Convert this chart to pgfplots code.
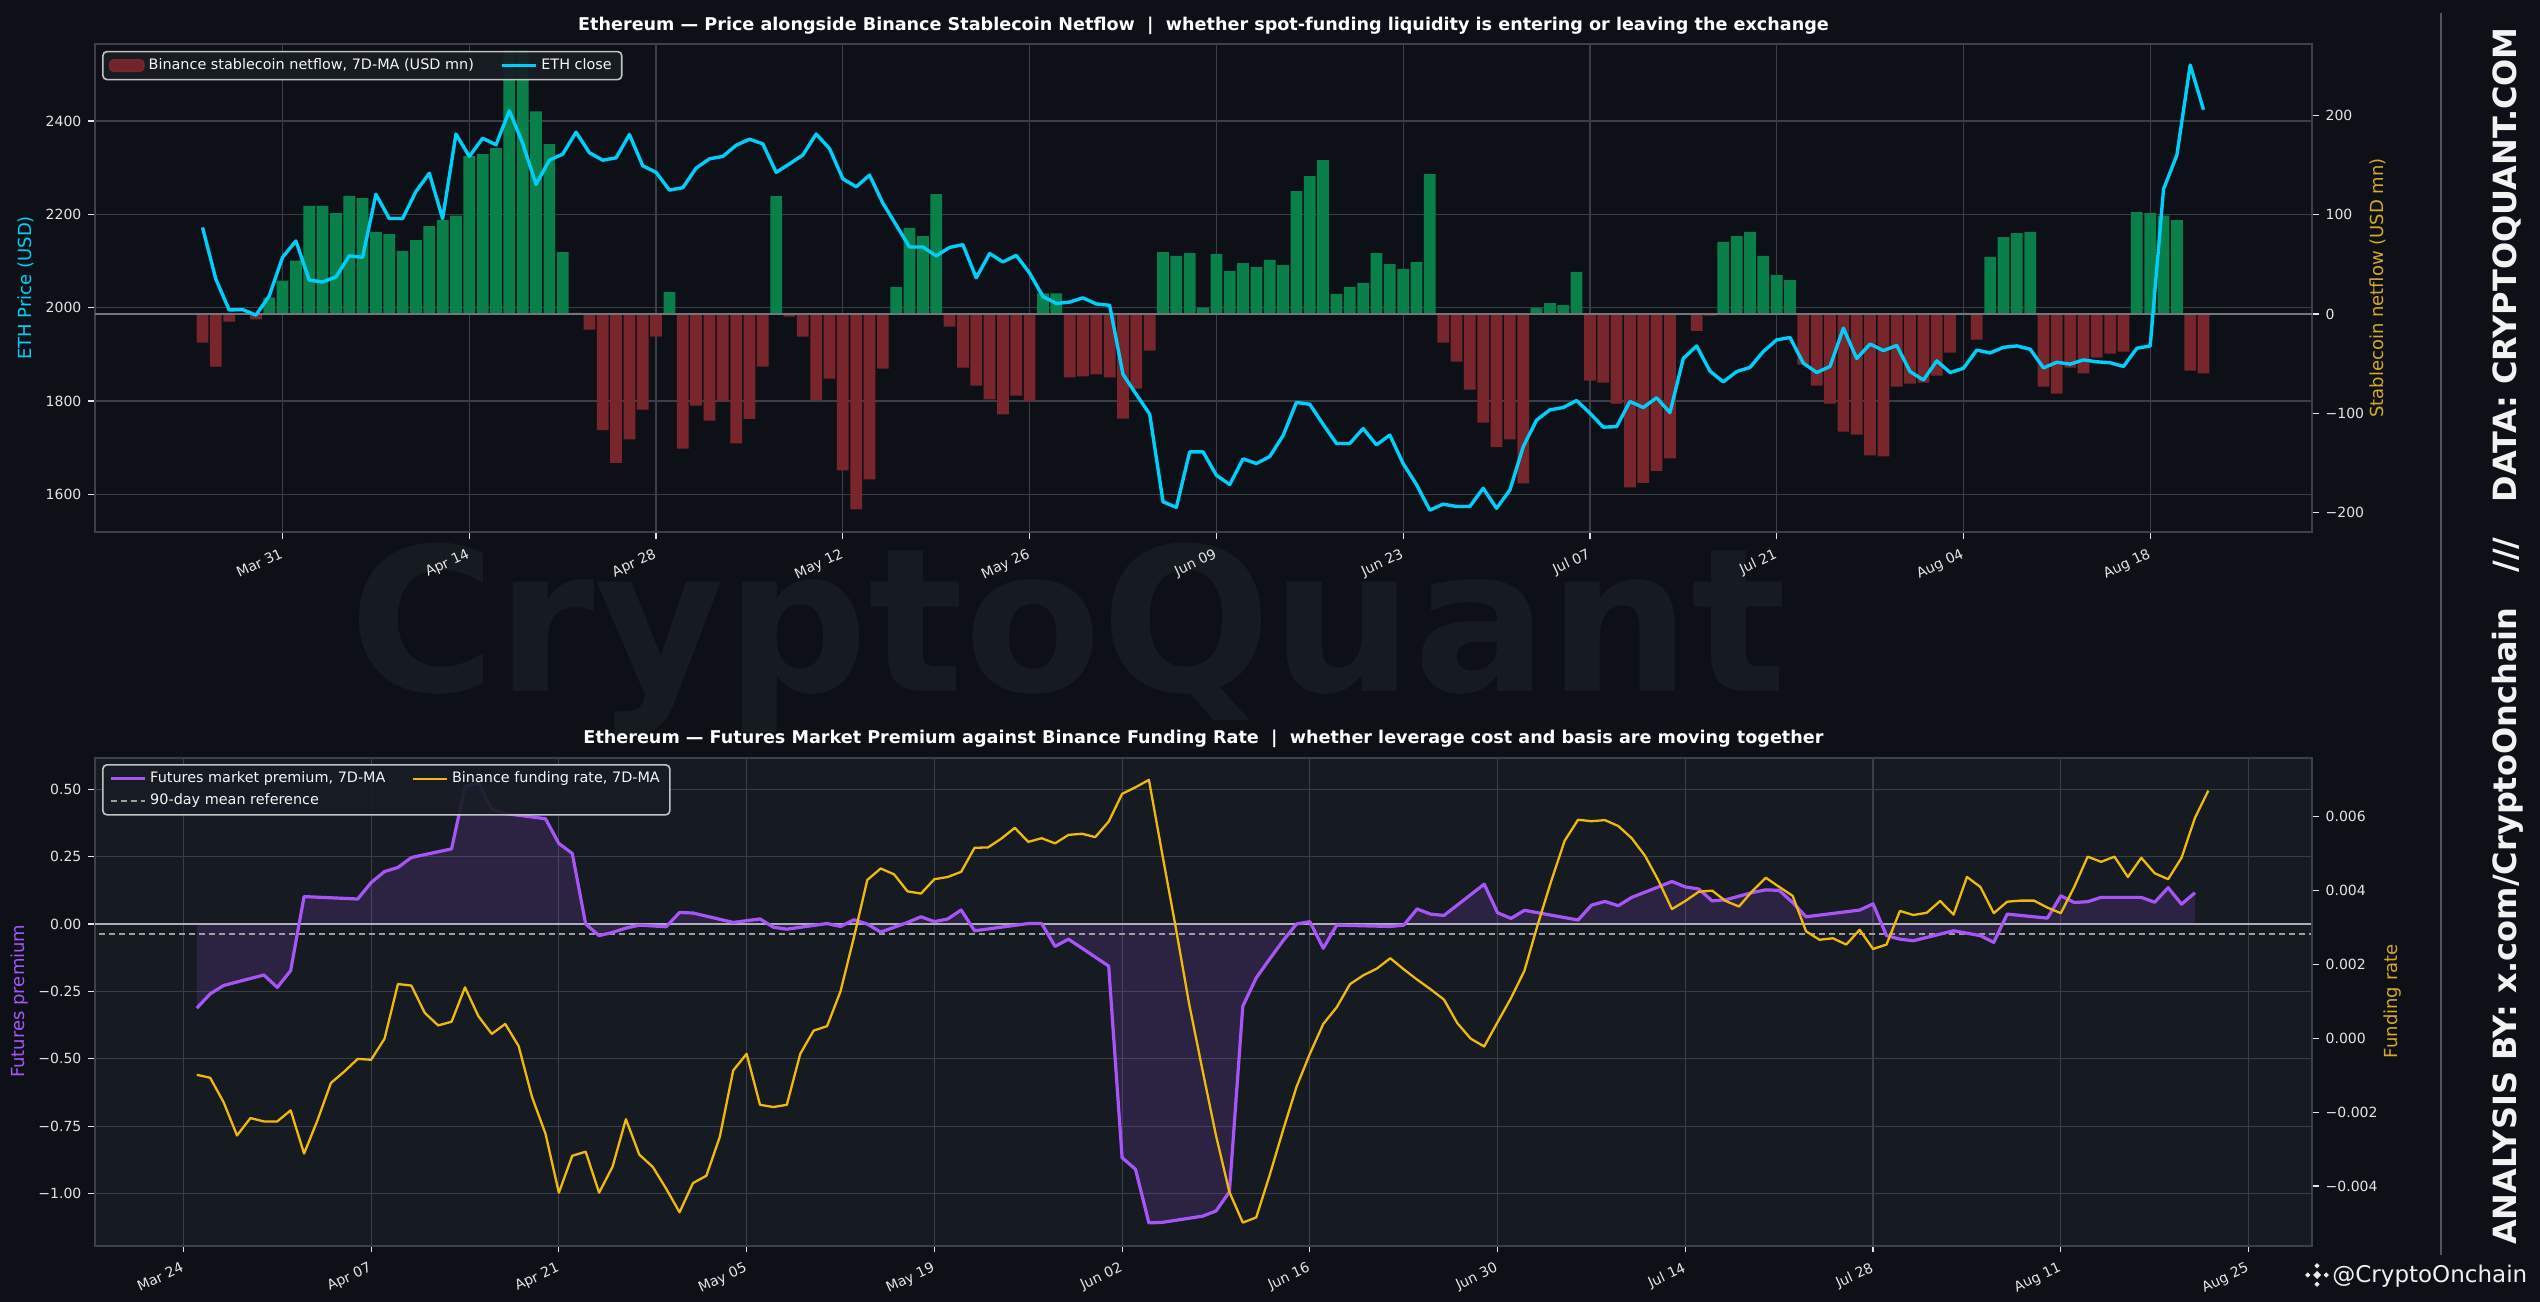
\documentclass[border=0pt]{standalone}
\usepackage{pgfplots}
\pgfplotsset{compat=1.18}
\usepackage{fontspec}
\setmainfont{DejaVu Sans}
\definecolor{figbg}{RGB}{13,17,23}
\definecolor{ax2bg}{RGB}{22,27,34}
\definecolor{gridc}{RGB}{58,62,70}
\definecolor{spinec}{RGB}{60,65,73}
\definecolor{tickc}{RGB}{228,228,228}
\definecolor{barg}{RGB}{9,127,74}
\definecolor{barr}{RGB}{120,38,44}
\definecolor{ethc}{RGB}{0,207,250}
\definecolor{purp}{RGB}{168,85,247}
\definecolor{yel}{RGB}{240,185,11}
\definecolor{goldlab}{RGB}{214,168,40}
\definecolor{wm}{RGB}{22,26,33}
\definecolor{legbg}{RGB}{24,29,37}
\definecolor{legdraw}{RGB}{195,195,195}
\definecolor{zline}{RGB}{115,118,125}
\definecolor{zline2}{RGB}{172,172,186}
\definecolor{sepc}{RGB}{80,85,95}

\pgfplotsset{
  base/.style={
    scale only axis, width=1108.5pt, height=244pt,
    axis line style={spinec, line width=0.8pt},
    tick style={tickc, line width=0.6pt},
    tick align=outside, major tick length=3.3pt,
    ticklabel style={font=\fontsize{7}{8}\selectfont, text=tickc},
    /pgf/number format/assume math mode=true,
    grid style={gridc, line width=0.6pt},
  },
  leg/.style={
    legend style={at={(rel axis cs:0.0032,0.986)}, anchor=north west,
      fill=legbg, fill opacity=0.92, draw opacity=1, text opacity=1,
      draw=legdraw, line width=0.8pt, rounded corners=2pt,
      font=\fontsize{7.2}{8.8}\selectfont, text=white!92!gray,
      legend columns=2, legend cell align=left,
      /tikz/every even column/.append style={column sep=11pt},
      inner xsep=3pt, inner ysep=1.5pt},
  },
}

\begin{document}
\begin{tikzpicture}
\path[use as bounding box] (0,0) rectangle (1270pt,651pt);
\fill[figbg] (0,0) rectangle (1270pt,651pt);
% watermark
\node[anchor=base west, inner sep=0pt, font=\fontsize{100}{102}\selectfont\bfseries, text=wm] at (174.5pt,305pt) {CryptoQuant};

% ================= TOP CHART =================
\begin{axis}[base, at={(47.5pt,385pt)}, anchor=south west,
  xmin=-14.06, xmax=152.13, ymin=1519.3, ymax=2565,
  tick pos=left, xmajorgrids, ymajorgrids,
  xtick={0,14,...,140},
  xticklabels={Mar 31,Apr 14,Apr 28,May 12,May 26,Jun 09,Jun 23,Jul 07,Jul 21,Aug 04,Aug 18},
  xticklabel style={rotate=25, anchor=north east},
  ytick={1600,1800,2000,2200,2400},
  yticklabels={1600,1800,2000,2200,2400},
]
\addplot[draw=none, forget plot] coordinates {(0,2000)};
\end{axis}

\begin{axis}[base, at={(47.5pt,385pt)}, anchor=south west,
  xmin=-14.06, xmax=152.13, ymin=-219.7, ymax=272,
  axis x line=none, axis y line*=right,
  ytick={-200,-100,0,100,200},
  yticklabels={−200,−100,0,100,200},
]
\addplot[ybar, bar shift=0pt, bar width=0.88, fill=barg, draw=none, forget plot] coordinates {
(-1,16.4)(0,33.6)(1,53.7)(2,109)(3,109)(4,101.7)(5,119)(6,116.8)(7,82.6)(8,80.5)(9,63.4)(10,74.5)(11,88.6)(12,94.6)(13,99)(14,159)(15,161)(16,167)(17,265)(18,265)(19,204)(20,171)(21,62.4)(22,1.2)(29,22)(37,118.8)(46,27.2)(47,86.6)(48,78.5)(49,120.8)(57,20.8)(58,20.8)(66,62.4)(67,58.4)(68,61.4)(69,6.4)(70,60.4)(71,43.3)(72,51.3)(73,47.3)(74,54.4)(75,49.3)(76,123.8)(77,138.9)(78,155)(79,20.1)(80,27.2)(81,31.2)(82,61.4)(83,50.3)(84,45.3)(85,52.3)(86,141)(94,6)(95,11)(96,9)(97,42.3)(108,72.5)(109,78.5)(110,82.6)(111,58.4)(112,39.3)(113,34.2)(126,1)(128,57.4)(129,77.5)(130,81.5)(131,82.6)(139,102.7)(140,101.7)(141,99)(142,94.6)
};
\addplot[ybar, bar shift=0pt, bar width=0.88, fill=barr, draw=none, forget plot] coordinates {
(-6,-28.9)(-5,-53)(-4,-7.7)(-2,-5.4)(23,-15.8)(24,-117)(25,-150)(26,-126.5)(27,-96.3)(28,-22.8)(30,-135.6)(31,-92.3)(32,-107.4)(33,-88)(34,-130.5)(35,-105.7)(36,-53)(38,-2.7)(39,-22.8)(40,-87.2)(41,-65.1)(42,-157.7)(43,-197)(44,-166.8)(45,-55)(50,-12.8)(51,-54)(52,-72.1)(53,-86.2)(54,-101.3)(55,-82.2)(56,-87.6)(59,-64)(60,-63)(61,-61)(62,-64)(63,-105.4)(64,-75.2)(65,-36.9)(87,-28.9)(88,-48)(89,-76.2)(90,-109.4)(91,-134.2)(92,-126.5)(93,-170.8)(98,-67.1)(99,-69.1)(100,-90.3)(101,-174.8)(102,-170.1)(103,-158)(104,-145.6)(106,-17.1)(107,-1.7)(114,-51)(115,-72.1)(116,-90.3)(117,-118.5)(118,-121.5)(119,-142.6)(120,-143.6)(121,-73.2)(122,-70.1)(123,-69.1)(124,-62.1)(125,-38.9)(127,-25.8)(132,-73.2)(133,-80.2)(134,-54)(135,-60)(136,-44)(137,-40)(138,-37.9)(143,-57)(144,-60)
};
\addplot[zline, line width=0.7pt, forget plot] coordinates {(-20,0) (160,0)};
\end{axis}

\begin{axis}[base, leg, at={(47.5pt,385pt)}, anchor=south west,
  xmin=-14.06, xmax=152.13, ymin=1519.3, ymax=2565,
  hide axis,
]
\addlegendimage{area legend, fill=barr, draw=barr}
\addlegendentry{Binance stablecoin netflow, 7D-MA (USD mn)}
\addplot[ethc, line width=1.7pt, line join=round] coordinates {
(-6,2172)(-5,2061)(-4,1995)(-3,1996)(-2,1984)(-1,2025)(0,2108)(1,2143)(2,2059)(3,2055)(4,2066)(5,2111)(6,2108)(7,2243)(8,2191)(9,2191)(10,2249)(11,2288)(12,2191)(13,2372)(14,2324)(15,2363)(16,2349)(17,2422)(18,2352)(19,2264)(20,2316)(21,2329)(22,2376)(23,2332)(24,2316)(25,2321)(26,2371)(27,2304)(28,2290)(29,2252)(30,2257)(31,2299)(32,2319)(33,2324)(34,2348)(35,2361)(36,2351)(37,2290)(38,2308)(39,2327)(40,2372)(41,2341)(42,2276)(43,2259)(44,2284)(45,2224)(46,2177)(47,2130)(48,2130)(49,2111)(50,2129)(51,2135)(52,2064)(53,2116)(54,2098)(55,2112)(56,2074)(57,2024)(58,2009)(59,2012)(60,2021)(61,2008)(62,2005)(63,1857)(64,1814)(65,1772)(66,1584)(67,1572)(68,1691)(69,1691)(70,1641)(71,1621)(72,1676)(73,1666)(74,1681)(75,1726)(76,1797)(77,1793)(78,1750)(79,1709)(80,1709)(81,1741)(82,1706)(83,1727)(84,1666)(85,1621)(86,1566)(87,1579)(88,1574)(89,1574)(90,1613)(91,1570)(92,1609)(93,1702)(94,1759)(95,1781)(96,1786)(97,1801)(98,1774)(99,1744)(100,1745)(101,1799)(102,1786)(103,1807)(104,1775)(105,1891)(106,1918)(107,1864)(108,1841)(109,1863)(110,1872)(111,1906)(112,1931)(113,1936)(114,1881)(115,1861)(116,1874)(117,1956)(118,1891)(119,1922)(120,1908)(121,1919)(122,1863)(123,1845)(124,1886)(125,1861)(126,1870)(127,1909)(128,1903)(129,1915)(130,1918)(131,1911)(132,1871)(133,1883)(134,1879)(135,1888)(136,1884)(137,1882)(138,1874)(139,1913)(140,1918)(141,2254)(142,2327)(143,2520)(144,2424)
};
\addlegendentry{ETH close}
\end{axis}

% ================= BOTTOM CHART =================
\begin{axis}[base, at={(47.5pt,28.1pt)}, anchor=south west,
  axis background/.style={fill=ax2bg},
  xmin=-13.59, xmax=151.73, ymin=-1.194, ymax=0.617,
  tick pos=left, xmajorgrids, ymajorgrids,
  xtick={-7,7,...,147},
  xticklabels={Mar 24,Apr 07,Apr 21,May 05,May 19,Jun 02,Jun 16,Jun 30,Jul 14,Jul 28,Aug 11,Aug 25},
  xticklabel style={rotate=25, anchor=north east},
  ytick={-1,-0.75,-0.5,-0.25,0,0.25,0.5},
  yticklabels={−1.00,−0.75,−0.50,−0.25,0.00,0.25,0.50},
]
\addplot[draw=none, fill=purp, fill opacity=0.15, forget plot] coordinates {
(-6,-0.312)(-5,-0.259)(-4,-0.228)(-1,-0.189)(0,-0.235)(1,-0.173)(2,0.102)(6,0.093)(7,0.154)(8,0.195)(9,0.21)(10,0.247)(13,0.279)(14,0.509)(15,0.525)(16,0.426)(17,0.41)(20,0.391)(21,0.299)(22,0.262)(23,0.0)(24,-0.043)(25,-0.031)(26,-0.015)(27,-0.004)(29,-0.01)(30,0.043)(31,0.041)(34,0.006)(36,0.019)(37,-0.012)(38,-0.019)(41,0.002)(42,-0.009)(43,0.016)(44,0.0)(45,-0.030)(46,-0.012)(47,0.006)(48,0.027)(49,0.009)(50,0.019)(51,0.052)(52,-0.025)(56,0.002)(57,0.002)(58,-0.083)(59,-0.056)(62,-0.156)(63,-0.867)(64,-0.910)(65,-1.109)(66,-1.107)(69,-1.084)(70,-1.065)(71,-0.994)(72,-0.305)(73,-0.2)(74,-0.13)(75,-0.062)(76,0.0)(77,0.009)(78,-0.09)(79,-0.004)(83,-0.009)(84,-0.004)(85,0.056)(86,0.037)(87,0.032)(90,0.148)(91,0.042)(92,0.021)(93,0.051)(97,0.015)(98,0.070)(99,0.084)(100,0.068)(101,0.099)(103,0.138)(104,0.158)(105,0.138)(106,0.130)(107,0.086)(108,0.090)(110,0.117)(111,0.127)(112,0.125)(113,0.08)(114,0.027)(118,0.052)(119,0.075)(120,-0.043)(121,-0.056)(122,-0.062)(125,-0.025)(127,-0.043)(128,-0.068)(129,0.037)(132,0.022)(133,0.105)(134,0.08)(135,0.083)(136,0.099)(139,0.099)(140,0.081)(141,0.135)(142,0.074)(143,0.116)
} \closedcycle;
\addplot[zline2, line width=0.7pt, forget plot] coordinates {(-20,0) (160,0)};
\addplot[gray!75, line width=0.7pt, dash pattern=on 3pt off 2pt, forget plot] coordinates {(-20,-0.037) (160,-0.037)};
\addplot[purp, line width=1.6pt, line join=round, forget plot] coordinates {
(-6,-0.312)(-5,-0.259)(-4,-0.228)(-1,-0.189)(0,-0.235)(1,-0.173)(2,0.102)(6,0.093)(7,0.154)(8,0.195)(9,0.21)(10,0.247)(13,0.279)(14,0.509)(15,0.525)(16,0.426)(17,0.41)(20,0.391)(21,0.299)(22,0.262)(23,0.0)(24,-0.043)(25,-0.031)(26,-0.015)(27,-0.004)(29,-0.01)(30,0.043)(31,0.041)(34,0.006)(36,0.019)(37,-0.012)(38,-0.019)(41,0.002)(42,-0.009)(43,0.016)(44,0.0)(45,-0.030)(46,-0.012)(47,0.006)(48,0.027)(49,0.009)(50,0.019)(51,0.052)(52,-0.025)(56,0.002)(57,0.002)(58,-0.083)(59,-0.056)(62,-0.156)(63,-0.867)(64,-0.910)(65,-1.109)(66,-1.107)(69,-1.084)(70,-1.065)(71,-0.994)(72,-0.305)(73,-0.2)(74,-0.13)(75,-0.062)(76,0.0)(77,0.009)(78,-0.09)(79,-0.004)(83,-0.009)(84,-0.004)(85,0.056)(86,0.037)(87,0.032)(90,0.148)(91,0.042)(92,0.021)(93,0.051)(97,0.015)(98,0.070)(99,0.084)(100,0.068)(101,0.099)(103,0.138)(104,0.158)(105,0.138)(106,0.130)(107,0.086)(108,0.090)(110,0.117)(111,0.127)(112,0.125)(113,0.08)(114,0.027)(118,0.052)(119,0.075)(120,-0.043)(121,-0.056)(122,-0.062)(125,-0.025)(127,-0.043)(128,-0.068)(129,0.037)(132,0.022)(133,0.105)(134,0.08)(135,0.083)(136,0.099)(139,0.099)(140,0.081)(141,0.135)(142,0.074)(143,0.116)
};
\end{axis}

\begin{axis}[base, leg, at={(47.5pt,28.1pt)}, anchor=south west,
  xmin=-13.59, xmax=151.73, ymin=-5.618, ymax=7.598,
  axis x line=none, axis y line*=right,
  ytick={-4,-2,0,2,4,6},
  yticklabels={−0.004,−0.002,0.000,0.002,0.004,0.006},
  legend style={at={(rel axis cs:0.0032,0.987)}},
]
\addlegendimage{purp, line width=1.6pt}
\addlegendentry{Futures market premium, 7D-MA}
\addlegendimage{yel, line width=1.2pt}
\addlegendentry{Binance funding rate, 7D-MA}
\addlegendimage{gray!75, line width=0.7pt, dash pattern=on 3pt off 2pt}
\addlegendentry{90-day mean reference}
\addplot[yel, line width=1.15pt, line join=round, forget plot] coordinates {
(-6,-0.987)(-5,-1.068)(-4,-1.73)(-3,-2.63)(-2,-2.16)(-1,-2.25)(0,-2.25)(1,-1.95)(2,-3.12)(3,-2.22)(4,-1.21)(5,-0.90)(6,-0.556)(7,-0.58)(8,-0.01)(9,1.47)(10,1.43)(11,0.69)(12,0.35)(13,0.45)(14,1.38)(15,0.60)(16,0.12)(17,0.39)(18,-0.21)(19,-1.59)(20,-2.58)(21,-4.18)(22,-3.18)(23,-3.07)(24,-4.18)(25,-3.48)(26,-2.19)(27,-3.15)(28,-3.48)(29,-4.07)(30,-4.71)(31,-3.92)(32,-3.72)(33,-2.67)(34,-0.87)(35,-0.42)(36,-1.80)(37,-1.86)(38,-1.80)(39,-0.42)(40,0.21)(41,0.33)(42,1.27)(43,2.73)(44,4.29)(45,4.60)(46,4.44)(47,3.98)(48,3.92)(49,4.31)(50,4.37)(51,4.51)(52,5.16)(53,5.17)(54,5.41)(55,5.70)(56,5.32)(57,5.42)(58,5.28)(59,5.51)(60,5.54)(61,5.45)(62,5.87)(63,6.62)(64,6.80)(65,7.00)(66,4.98)(67,3.0)(68,0.93)(69,-0.87)(70,-2.63)(71,-4.16)(72,-4.99)(73,-4.85)(74,-3.71)(75,-2.49)(76,-1.32)(77,-0.42)(78,0.39)(79,0.84)(80,1.47)(81,1.71)(82,1.89)(83,2.17)(84,1.87)(85,1.59)(86,1.33)(87,1.05)(88,0.41)(89,-0.01)(90,-0.22)(91,0.44)(92,1.09)(93,1.83)(94,3.09)(95,4.26)(96,5.35)(97,5.92)(98,5.88)(99,5.91)(100,5.75)(101,5.42)(102,4.94)(103,4.27)(104,3.50)(105,3.72)(106,3.97)(107,4.00)(108,3.72)(109,3.57)(110,3.99)(111,4.35)(112,4.10)(113,3.86)(114,2.90)(115,2.67)(116,2.71)(117,2.54)(118,2.94)(119,2.42)(120,2.54)(121,3.45)(122,3.34)(123,3.40)(124,3.72)(125,3.35)(126,4.37)(127,4.10)(128,3.39)(129,3.70)(130,3.73)(131,3.73)(132,3.54)(133,3.39)(134,4.10)(135,4.92)(136,4.78)(137,4.92)(138,4.37)(139,4.89)(140,4.47)(141,4.31)(142,4.89)(143,5.97)(144,6.71)
};
\end{axis}

% ================= TITLES AND LABELS =================
\node[font=\fontsize{8.8}{10}\selectfont\bfseries, text=white] at (601.75pt,638pt)
  {Ethereum — Price alongside Binance Stablecoin Netflow \ | \ whether spot-funding liquidity is entering or leaving the exchange};
\node[font=\fontsize{8.8}{10}\selectfont\bfseries, text=white] at (601.75pt,281.5pt)
  {Ethereum — Futures Market Premium against Binance Funding Rate \ | \ whether leverage cost and basis are moving together};

\node[rotate=90, font=\fontsize{9}{10}\selectfont, text=ethc] at (13pt,507pt) {ETH Price (USD)};
\node[rotate=90, font=\fontsize{9}{10}\selectfont, text=goldlab] at (1189pt,507pt) {Stablecoin netflow (USD mn)};
\node[rotate=90, font=\fontsize{9}{10}\selectfont, text=purp] at (10pt,150.4pt) {Futures premium};
\node[rotate=90, font=\fontsize{9}{10}\selectfont, text=goldlab] at (1196.5pt,150.4pt) {Funding rate};

% right-side banner
\draw[sepc, line width=0.8pt] (1220.5pt,23.5pt) -- (1220.5pt,644.5pt);
\node[rotate=90, font=\fontsize{16}{19}\selectfont\bfseries, text=white!90!gray] at (1254pt,333pt)
  {ANALYSIS BY: x.com/CryptoOnchain\hspace{1.1em}///\hspace{1.1em}DATA: CRYPTOQUANT.COM};

% footer handle with logo
\begin{scope}[shift={(1158.5pt,13.5pt)}]
  \fill[white!85!gray] (0,-2pt) -- (2pt,0) -- (0,2pt) -- (-2pt,0) -- cycle;
  \fill[white!85!gray, shift={(0,4.6pt)}] (0,-1.3pt) -- (1.3pt,0) -- (0,1.3pt) -- (-1.3pt,0) -- cycle;
  \fill[white!85!gray, shift={(0,-4.6pt)}] (0,-1.3pt) -- (1.3pt,0) -- (0,1.3pt) -- (-1.3pt,0) -- cycle;
  \fill[white!85!gray, shift={(4.6pt,0)}] (0,-1.3pt) -- (1.3pt,0) -- (0,1.3pt) -- (-1.3pt,0) -- cycle;
  \fill[white!85!gray, shift={(-4.6pt,0)}] (0,-1.3pt) -- (1.3pt,0) -- (0,1.3pt) -- (-1.3pt,0) -- cycle;
\end{scope}
\node[anchor=west, inner sep=0pt, font=\fontsize{11.5}{13}\selectfont, text=white!88!gray] at (1166pt,13pt) {@CryptoOnchain};
\end{tikzpicture}
\end{document}
